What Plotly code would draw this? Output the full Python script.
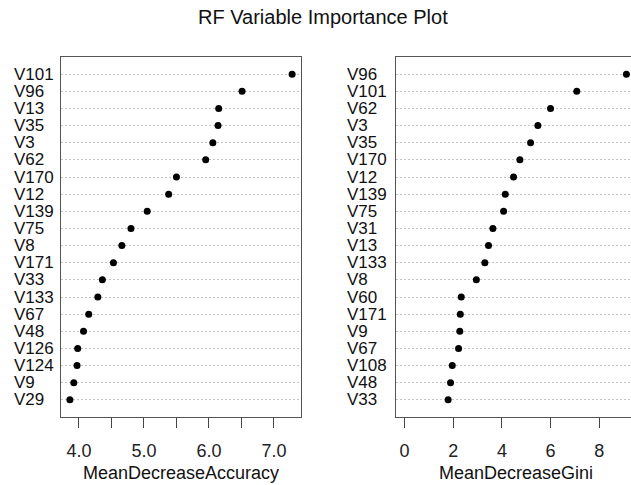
import plotly.graph_objects as go

W, H = 631, 485

acc_vars = ["V101", "V96", "V13", "V35", "V3", "V62", "V170", "V12", "V139", "V75",
            "V8", "V171", "V33", "V133", "V67", "V48", "V126", "V124", "V9", "V29"]
acc_vals = [7.28, 6.51, 6.15, 6.14, 6.06, 5.95, 5.50, 5.38, 5.05, 4.80,
            4.66, 4.53, 4.36, 4.29, 4.15, 4.07, 3.98, 3.97, 3.92, 3.86]

gini_vars = ["V96", "V101", "V62", "V3", "V35", "V170", "V12", "V139", "V75", "V31",
             "V13", "V133", "V8", "V60", "V171", "V9", "V67", "V108", "V48", "V33"]
gini_vals = [9.12, 7.08, 6.00, 5.48, 5.18, 4.74, 4.48, 4.14, 4.07, 3.63,
             3.45, 3.30, 2.95, 2.33, 2.29, 2.27, 2.22, 1.96, 1.89, 1.79]

acc_tickvals = [4.0, 4.5, 5.0, 5.5, 6.0, 6.5, 7.0]
acc_ticktext = ["4.0", "", "5.0", "", "6.0", "", "7.0"]
gini_tickvals = [0, 2, 4, 6, 8]
gini_ticktext = ["0", "2", "4", "6", "8"]

title_text = "RF Variable Importance Plot"
xtitle1 = "MeanDecreaseAccuracy"
xtitle2 = "MeanDecreaseGini"

FONT = "Liberation Sans, Arial, Helvetica, sans-serif"
FS = 18
LFS = 17

fig = go.Figure()
fig.add_trace(go.Scatter(x=acc_vals, y=acc_vars, mode="markers",
                         marker=dict(color="black", size=7), xaxis="x", yaxis="y",
                         showlegend=False))
fig.add_trace(go.Scatter(x=gini_vals, y=gini_vars, mode="markers",
                         marker=dict(color="black", size=7), xaxis="x2", yaxis="y2",
                         showlegend=False))

# Plot-area placement (pixels)
L1, R1 = 61, 301
L2, R2 = 395.7, 631
TOP, BOT = 57, 417
yd = [(H - BOT) / H, (H - TOP) / H]

# axis ranges (R style 4% extension)
def ext(lo, hi):
    d = (hi - lo) * 0.04
    return lo - d, hi + d

a_lo, a_hi = ext(min(acc_vals), max(acc_vals))
g_lo, g_hi_full = ext(0, max(gini_vals))
# right panel is clipped by the window edge
full_px = 635.3 - L2
g_hi = g_lo + (g_hi_full - g_lo) * (R2 - L2) / full_px

common_x = dict(showgrid=False, zeroline=False, ticks="outside", ticklen=10,
                tickcolor="#444", tickwidth=1, showline=True, linecolor="#555",
                linewidth=1, tickfont=dict(family=FONT, size=FS, color="#222"),
                ticklabelstandoff=7)
common_y = dict(showticklabels=False, ticks="", showgrid=True, griddash="2px,2px",
                gridcolor="#c4c4c4", gridwidth=1, zeroline=False, showline=True,
                linecolor="#555", linewidth=1)

fig.update_layout(
    width=W, height=H,
    margin=dict(l=0, r=0, t=0, b=0),
    paper_bgcolor="white", plot_bgcolor="white",
    xaxis=dict(domain=[L1 / W, R1 / W], range=[a_lo, a_hi], tickvals=acc_tickvals,
               ticktext=acc_ticktext, mirror=True, anchor="y", **common_x),
    yaxis=dict(domain=yd, type="category", categoryarray=acc_vars,
               categoryorder="array", range=[len(acc_vars), -1], mirror=True,
               anchor="x", **common_y),
    xaxis2=dict(domain=[L2 / W, 1.0], range=[g_lo, g_hi], tickvals=gini_tickvals,
                ticktext=gini_ticktext, mirror=True, anchor="y2", **common_x),
    yaxis2=dict(domain=yd, type="category", categoryarray=gini_vars,
                categoryorder="array", range=[len(gini_vars), -1], mirror=False,
                anchor="x2", **common_y),
)

ann = []
for v in acc_vars:
    ann.append(dict(x=12 / W, xref="paper", y=v, yref="y", text=v, showarrow=False,
                    xanchor="left", yanchor="middle",
                    font=dict(family=FONT, size=LFS, color="#111")))
for v in gini_vars:
    ann.append(dict(x=345 / W, xref="paper", y=v, yref="y2", text=v, showarrow=False,
                    xanchor="left", yanchor="middle",
                    font=dict(family=FONT, size=LFS, color="#111")))
ann.append(dict(x=322.5 / W, y=1 - 17 / H, xref="paper", yref="paper", text=title_text,
                showarrow=False, xanchor="center", yanchor="middle",
                font=dict(family=FONT, size=20, color="#111")))
ann.append(dict(x=(L1 + R1) / 2 / W, y=1 - 473 / H, xref="paper", yref="paper",
                text=xtitle1, showarrow=False, xanchor="center", yanchor="middle",
                font=dict(family=FONT, size=FS, color="#111")))
ann.append(dict(x=515.5 / W, y=1 - 473 / H, xref="paper", yref="paper",
                text=xtitle2, showarrow=False, xanchor="center", yanchor="middle",
                font=dict(family=FONT, size=FS, color="#111")))
fig.update_layout(annotations=ann)

fig.write_html("out.html")
